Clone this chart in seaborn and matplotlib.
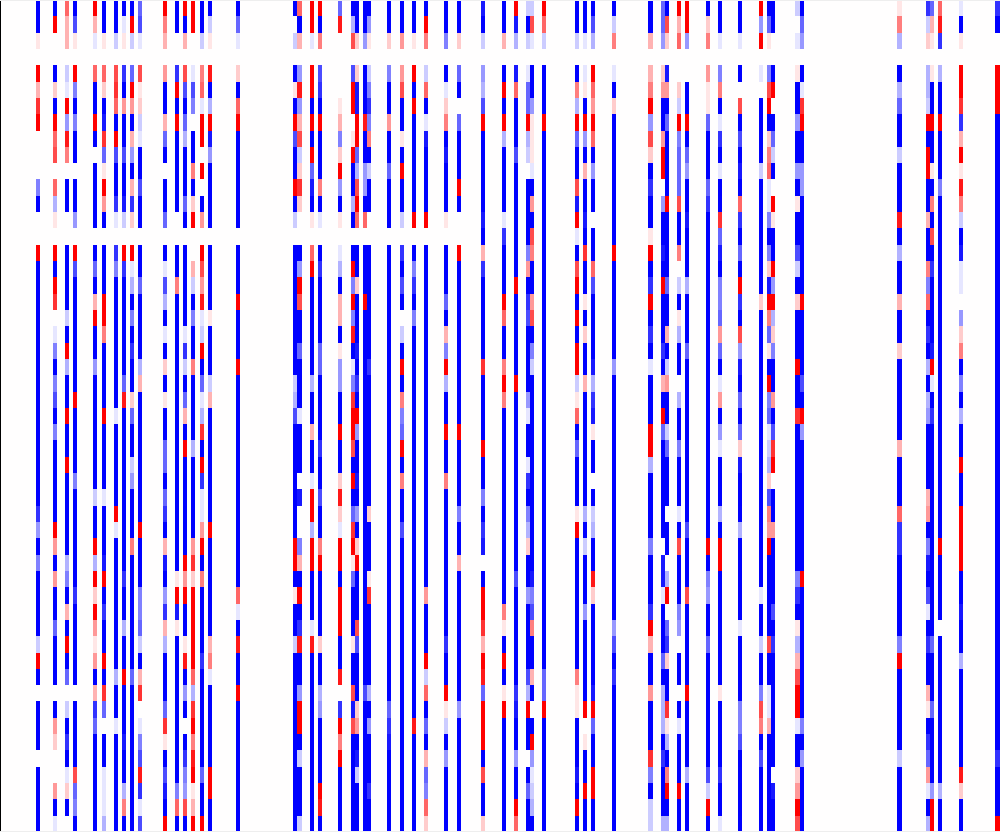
import numpy as np
import matplotlib
matplotlib.use("Agg")
import matplotlib.pyplot as plt
import seaborn as sns

# Cell values per heatmap column, one letter per row.
# J..A = -1.0..-0.1, . = 0, a..j = 0.1..1.0
N_ROWS = 51
N_COLS = 245
J = "J"
c009 = "JJa.jchj...EJ..j" + J*15 + "HDJE" + "JJJJ" + "BjJ." + "JJJ." + "JJJJ"
c013 = "Jj..JbJjfg.fCa.jJjh.AEJEGJE" + J*5 + "jdJdJJF" + "JJJ.Jdb..dJA"
c016 = "fcc.BAjDie.JJ..JJJJBJjCJJjJJj" + J*5 + "CEJcJjJF.BJHJAbJ."
c018 = "JGa.jEJEJJ.JJD.jG" + J*7 + "jJ" + "JJJ" + "E" + J*6 + "H" + "JJ" + "JJJ" + "." + "JJJJ" + "gFEJ"
c023 = "jcA.fJJjJ.JJJJ.JFJcjJJD" + "JJJ" + "JJJJ" + "B" + "JJ" + "jCjbjd" + "adJcHF" + J*6
c025 = "JJa.fbJIhFajdJ.JJJjjeJJJJj" + "JJJJ" + "A" + "JJJ" + "IjJHJ" + "JjJ" + "hF." + "JJ" + "AAAC"
c028 = "JJB.ghfJjGJJHA.HE" + J*8 + "A" + J*5 + "jA" + J*8 + "C" + "JJ" + "A" + J*6
c030 = "JAa.HJdJJGJJIB.jH" + J*6 + "Fi" + J*10 + "H" + "JJ" + "C" + "JJ" + "j" + "JJJ" + "I" + "JJ" + "CeJ"
c032 = "JjB.FjdJcDJcHb.jAC" + "JEJHJJbF" + "JJ" + "BD" + "JJJ" + "e" + J*7 + "F" + J*9
c034 = "FGA.gabBAJJGJJ.JJF" + "JJJJ" + "Cc" + "JJ" + J*6 + "j" + "JJJ" + "EEF" + "BJch.AEGiHAG"
c040 = "jec.dJJcFJ.JJF." + "JAGCJAJbJaJ" + "JFFJFHJcIJDHc" + "CJJJFhaJGIJj"
c043 = "JJ..HjJjJJJJJ..JJe" + J*17 + "ajIa" + J*9 + "EfJ"
c045 = "jJc.gGJFCJJJFJ.JJJJJ" + "AHBJFc" + "Jj" + J*6 + "jdjJJ" + "aiJDJ.JHEDgJ"
c047 = "jj..AGE.JJeJbj..cBJEJJeJJJ" + "J" + "C" + J*5 + "dhb" + "jjj" + "jj" + "fChjeijacj"
c049 = "JJB.efAjj.j.Jd.jgdiABjJFAC" + "hJjHAAdjJeJJJ" + "JH" + J*6 + "FJJj"
c051 = "JBa.iJCjIDJJJJ.JJJJaJJJBcJ" + J*6 + "j" + J*6 + "ceA" + J*5 + "jj" + "JJ"
c058 = "JFA.bJfj" + J*5 + "J." + "JJJ" + "j" + "JJJ" + "j" + "JJJ" + J*10 + "fAJ" + "iJJj" + J*8
c072 = "J.B.JaJjGJJjJB." + J*8 + "BCG" + J*7 + "jjJaJJ" + "B" + J*11
c073 = "fJc.DiDcgBbhb.." + "JDjgJJFJJJA" + "JJJ" + ".I.." + "EcJjJH" + "iJJDjjJBJJJB"
c076 = "jjA.jjJjJjFIJa." + "fj" + J*6 + "C" + "JJ" + "cJJAjjCjjJJJA" + "i" + J*11
c078 = "jJe.GHJjJJJeJA." + "JH" + "JJJJ" + "FF" + "JJJ" + "JHJJGJJej" + "JJJJ" + "bJJCD" + "JJJJ" + "jiJ"
c083 = "Fi....acEbjDJa." + "ACJccJaDDJJ" + "jJJbibAjjJjjj" + "JJ" + "i.Hjej" + "JJJJ"
c086 = "JCg.Gjj.ajJJCJ." + "JjEjEiJAEhj" + "jgJjJFhjaFJJJ" + "aJJgIg" + J*6
c087 = "JJb.bIIjjFCgjf." + "JJbJJJIJHJj" + "DJJIJDJbjJJJg" + "GJJJbdJ" + "IBJJJ"
c089 = "JJD.JJJiJJDDJf." + "JJJ" + "j" + J*7 + J*13 + "JJJ" + "G" + J*8
c090 = "JDa.BEHEeJBJJ.." + J*7 + "H" + "JJJ" + J*5 + "b" + "JJJ" + "ahJJ" + "JJJ" + "C" + "J" + "D" + "JJJ" + "HJJ"
c095 = "JJb.EJJdJJFJJJ." + J*11 + J*13 + "JJJJ" + "FHI" + J*5
c098 = "JJd.dgJJaJjJJB." + "HJGJ.BJjJeE" + "FjJeJJG" + J*6 + J*12
c101 = "JJa.jJj" + J*6 + "j." + "JEHJE" + J*6 + J*13 + J*5 + "i" + J*6
c104 = "Jje.BfJAI" + "JJJJ" + "j." + J*11 + J*10 + "dJJ" + "J" + "jBfJFJcFEfb"
c109 = "JJE.JAbeJIJJJa." + "JJJFJcEjCJJ" + "jJJe" + J*9 + "HJJjaBJD" + "JJJJ"
c112 = "JJb.FJ.FJJJjJ.." + "j" + J*10 + "j" + "JJJJ" + "E" + "JJ" + "c" + "JJJJ" + "JJJJ" + "D" + J*7
c118 = "IJB.DCGj" + J*5 + "IJ" + "cH" + J*5 + "h" + "JJJ" + "JjJJEJHI.Jjjh" + "cjiFjjjJgJJb"
c123 = "JJc.JjJjC" + "JJJJ" + "AH" + "JJJ" + "jf" + "JJ" + "eje" + "J" + J*11 + "ea" + "JjJaj" + J*7
c126 = "jIC.IfJJJGJJJJJ" + "JJjJJJJJjJJ" + J*9 + "G" + "JJJ" + "JJJ" + "HI" + "JJ" + "D" + "JJ" + "jf"
c129 = "BJB.AFFjCB.JJJJ" + "EdJHGJJJJDA" + "JJAHJECbJJDJJ" + "JJGCjJJ.JFJJ"
c130 = "BgA.JJDaaaAJdJg" + "eJJdgJEBJJJ" + J*9 + "IEGe" + "JJcJ.JjDABCJ"
c133 = "jfB.JJJj" + J*7 + J*11 + J*13 + "JJ" + "FFj" + J*7
c141 = "JJB.JeCjFJJgIjAJgjJjJjjBaf" + "JFJJJaj" + J*8 + "eaa" + "JJJ" + "IJjJ"
c143 = "JJA.AaJjDJcJJIJhJJaJbJJcJJ" + J*5 + "CJB" + "JJJ" + "D" + "J" + "JJJJ" + "j.a" + "JJ" + "jJJ"
c145 = "JGC.jfdjfJDJJ.JJfG" + "JJJJ" + "ICHI" + "aJJ.JBCJJibJJ" + "JJJ" + "IjF" + "JJ" + "jjJJ"
c150 = "JBe.AJb" + J*8 + "j" + J*6 + "D" + "JJJ" + J*12 + "DGJH" + J*9
c159 = "JJc.cejDgbJHJJajJHjJHJAJJJ" + "jjC" + "JJJJ" + "E" + "JJJ" + "HjcJJdJJJhEJBB"
c162 = "FFD.bdJJdjj.DJJIJjJJJHJcJj" + "F" + "JJJJ" + "JJ" + ".IIA" + "JJJ" + "F" + "J" + "CCC" + "JH" + "JJJ" + "C"
c163 = "Jgb.IdJFJJJJjJJJJFJJcJBdJJ" + "BFJJJ.JJ.Cj.F" + "HbJJhaCJejJC"
c166 = "jcf..bBjEFFFgJJe.BJaCJJ.CJ" + "JEJJJAJgJJJED" + ".JJ.JAJJJjJJ"
c168 = "jjD..JJjJFDJJIJJJCJJJFJJJJ" + J*6 + "G" + "JJJ" + "g" + J*5 + "j" + "JJJJ" + "C" + "JJJ"
c173 = "Jbe.daaFJJJFH" + J*13 + J*7 + "jJED" + "JJ" + "F" + J*7 + "GBjJ"
c176 = "JJA.EeJAHJAJJhFIJEEFdFJAdJ" + "DA" + "JJJ" + "C" + "J" + "jj" + J*7 + "a" + "JJJJ" + "HJJA"
c181 = "JJA.J.gJGJIJfHJFJjHJgDIJFJ" + "FbI" + "JJJ" + "C" + J*5 + "A" + "JJJJ" + "EEG" + J*5
c186 = "jDj.A.JJJJBJJJJJJJbJJJJJJJ" + J*10 + "A" + "JJ" + "B" + "JJ" + "EgeJG" + "JJJJ"
c188 = "JFa.EgjJbefAAEJEbIjeFaJjEF" + "ABCbGedj" + J*5 + "gJJAAc" + J*6
c189 = "JJ..Jj.JFBJ.jaJJjDjCbEJJdJ" + "Ghj.JJd" + "JJJJ" + "GJ" + "H" + J*7 + ".I" + "JJ"
c195 = "B.A.aJJDJJDJaJJGBJbJJJjJJh" + J*9 + "EHJa" + "Ccg" + "jj" + "A" + "JJ" + "bdjg"
c196 = "JFD.JAhjJJDD" + J*6 + "j" + "JJJJ" + "GJj" + "D" + J*8 + "j" + J*8 + "EJD" + "JJJJ"
c220 = "aeC.JCFJJBJJJiJCJJcJJbJJJJ" + "Jc" + "JJJ" + "f" + "HH" + J*5 + "Ej" + J*5 + "B" + "JJJJ"
c227 = "HBb.CCBjJjjJJcJJeEfJHJCJCD" + "JJJJ" + "cdJEIJGAJ" + "HJJcaJHFdAJC"
c228 = "Fca.aJJjJJaJeJgJHJJJJIjAJH" + J*13 + "F" + "JJJ" + "F" + "JJJJ" + "Djj"
c230 = "fiH.CJJjJJJE" + J*14 + J*7 + "j" + "JJJJ" + "." + J*9 + "CJJ"
c235 = "AJa.jjhHcjaieBJIAA.DbeJEJC" + "JJjJJjjjjJJIJJC" + J*6 + "ibJJ"
c244 = "HJ..jjj" + J*19 + J*20 + "H" + "JJJ" + "j"

columns = {9: c009, 13: c013, 16: c016, 18: c018, 23: c023, 25: c025, 28: c028, 30: c030,
           32: c032, 34: c034, 40: c040, 43: c043, 45: c045, 47: c047, 49: c049, 51: c051,
           58: c058, 72: c072, 73: c073, 76: c076, 78: c078, 83: c083, 86: c086, 87: c087,
           89: c089, 90: c090, 95: c095, 98: c098, 101: c101, 104: c104, 109: c109, 112: c112,
           118: c118, 123: c123, 126: c126, 129: c129, 130: c130, 133: c133, 141: c141,
           143: c143, 145: c145, 150: c150, 159: c159, 162: c162, 163: c163, 166: c166,
           168: c168, 173: c173, 176: c176, 181: c181, 186: c186, 188: c188, 189: c189,
           195: c195, 196: c196, 220: c220, 227: c227, 228: c228, 230: c230, 235: c235, 244: c244}

scale = {".": 0.0}
for k, ch in enumerate("ABCDEFGHIJ"):
    scale[ch] = -(k + 1) / 10
for k, ch in enumerate("abcdefghij"):
    scale[ch] = (k + 1) / 10

bad = {c: len(s) for c, s in columns.items() if len(s) != N_ROWS}
if bad:
    raise SystemExit(f"wrong lengths: {bad}")

matrix = np.zeros((N_ROWS, N_COLS))
for c, s in columns.items():
    matrix[:, c] = [scale[ch] for ch in s]

fig = plt.figure(figsize=(10, 8.32), dpi=100)
ax = fig.add_axes([0, 0, 1, 1])
sns.heatmap(matrix, ax=ax, cmap="bwr", vmin=-1, vmax=1, cbar=False,
            xticklabels=False, yticklabels=False)
ax.set_xlim(0.12, N_COLS + 0.12)
for side, colour in (("left", "black"), ("top", "#eeeeee"), ("bottom", "#eeeeee")):
    ax.spines[side].set_visible(True)
    ax.spines[side].set_color(colour)
    ax.spines[side].set_linewidth(1.44)
ax.spines["right"].set_visible(False)
fig.savefig("out.png", dpi=100)
